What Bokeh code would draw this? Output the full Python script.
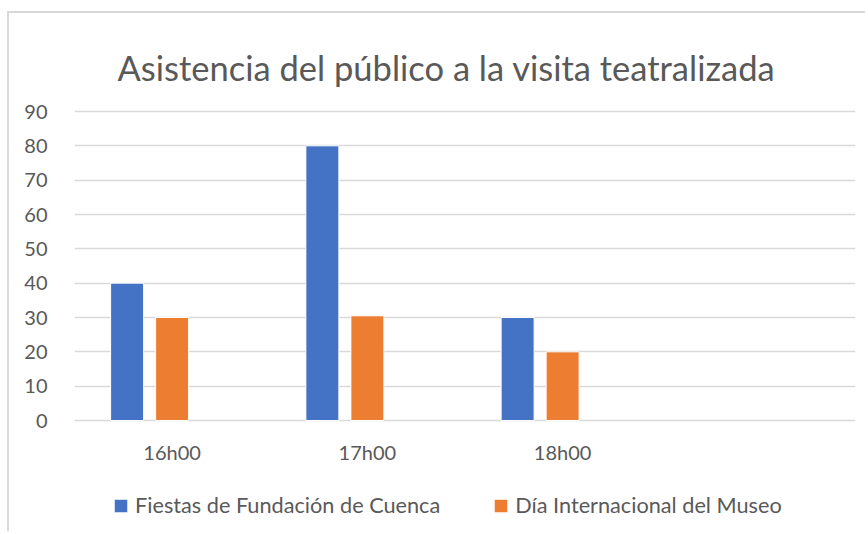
from bokeh.plotting import figure
from bokeh.models import FactorRange, Range1d, Legend, LegendItem, ColumnDataSource, FixedTicker, Label
from bokeh.transform import dodge
from bokeh.embed import file_html
from bokeh.resources import INLINE

# ---- data ----
categories = ["16h00", "17h00", "18h00", " "]
fiestas = [40, 80, 30]
museo = [30, 30.5, 20]
series_names = ["Fiestas de Fundación de Cuenca", "Día Internacional del Museo"]
y_ticks = [0, 10, 20, 30, 40, 50, 60, 70, 80, 90]
title_text = "Asistencia del público a la visita teatralizada"

FONT = "Lato"
TXT = "#595959"
GRID = "#d9d9d9"

# ---- layout (canvas pixels) ----
W, H = 858, 520
LEFT, RIGHT = 65, 12
TOP_90, ZERO_Y = 98, 407          # pixel rows of the 90 and 0 lines
px_per_unit = (ZERO_Y - TOP_90) / 90.0
y_high = 90 + TOP_90 / px_per_unit          # frame spans the full canvas height
y_low = -(H - ZERO_Y) / px_per_unit
cat_px = (W - LEFT - RIGHT) / len(categories)
title_x = 43 / cat_px                        # 43 px right of the frame's left edge
title_y = (ZERO_Y - 54) / px_per_unit        # baseline 54 px from canvas top

src = ColumnDataSource(dict(cat=categories[:3], fiestas=fiestas, museo=museo))

p = figure(x_range=FactorRange(*categories), y_range=Range1d(y_low, y_high),
           width=W, height=H, output_backend="svg", toolbar_location=None,
           min_border_left=LEFT, min_border_right=RIGHT, min_border_top=0, min_border_bottom=0)

r1 = p.vbar(x=dodge("cat", -0.2305, range=p.x_range), top="fiestas", bottom=0, width=0.169,
            source=src, fill_color="#4472c4", line_color="white", line_width=1)
r2 = p.vbar(x=dodge("cat", 0.0, range=p.x_range), top="museo", bottom=0, width=0.169,
            source=src, fill_color="#ed7d31", line_color="white", line_width=1)

p.add_layout(Label(x=title_x, y=title_y, text=title_text, text_font=FONT,
                   text_font_size="34.5px", text_color=TXT, text_align="left",
                   text_baseline="alphabetic"))

p.outline_line_color = None
p.xgrid.visible = False
p.ygrid.ticker = FixedTicker(ticks=y_ticks)
p.ygrid.grid_line_color = GRID
p.ygrid.grid_line_width = 1.3

p.yaxis.ticker = FixedTicker(ticks=y_ticks)
p.yaxis.axis_line_color = None
p.yaxis.major_tick_line_color = None
p.yaxis.minor_tick_line_color = None
p.yaxis.major_label_text_font = FONT
p.yaxis.major_label_text_font_size = "20px"
p.yaxis.major_label_text_color = TXT
p.yaxis.major_label_standoff = 21

p.xaxis.fixed_location = 0
p.xaxis.axis_line_color = None
p.xaxis.major_tick_line_color = None
p.xaxis.minor_tick_line_color = None
p.xaxis.major_label_text_font = FONT
p.xaxis.major_label_text_font_size = "20px"
p.xaxis.major_label_text_color = TXT
p.xaxis.major_label_standoff = 13

legend = Legend(items=[LegendItem(label=series_names[0], renderers=[r1]),
                       LegendItem(label=series_names[1], renderers=[r2])],
                orientation="horizontal", location=(38, 15),
                label_text_font=FONT, label_text_font_size="21.7px", label_text_color=TXT,
                glyph_width=17, glyph_height=17, label_standoff=6, spacing=52,
                border_line_color=None, background_fill_alpha=0, margin=0, padding=0)
p.add_layout(legend)

p.styles = {"margin-left": "7px", "margin-top": "11px",
            "border-left": "2px solid #d9d9d9", "border-top": "2px solid #d9d9d9"}

open("out.html", "w").write(file_html(p, INLINE))
